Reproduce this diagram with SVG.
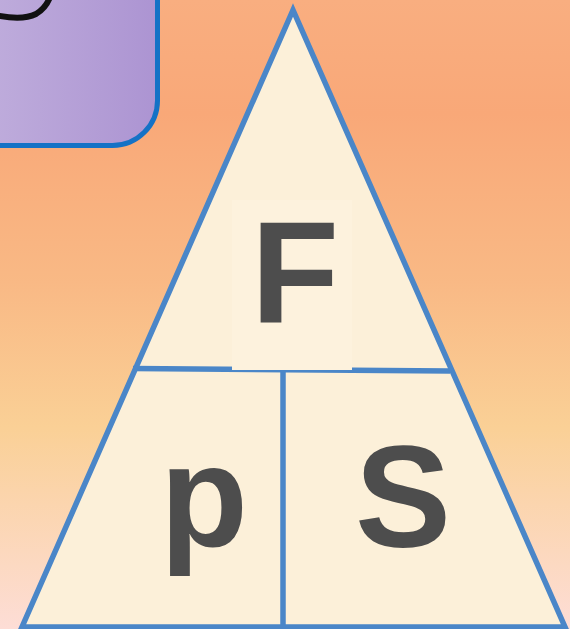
<svg xmlns="http://www.w3.org/2000/svg" width="570" height="629" viewBox="0 0 570 629">
  <defs>
    <linearGradient id="bg" x1="0" y1="0" x2="0" y2="1">
      <stop offset="0" stop-color="#F9AE80"/>
      <stop offset="0.18" stop-color="#F9A878"/>
      <stop offset="0.45" stop-color="#F9B985"/>
      <stop offset="0.68" stop-color="#FAD096"/>
      <stop offset="1" stop-color="#FDDDD6"/>
    </linearGradient>
    <linearGradient id="purple" x1="0" y1="0" x2="1" y2="0">
      <stop offset="0" stop-color="#C3B2DE"/>
      <stop offset="1" stop-color="#AC94D2"/>
    </linearGradient>
    <style>
      .edge { fill: none; stroke: #4A86C8; stroke-width: 5.5; stroke-linecap: butt; stroke-linejoin: miter; }
      .lbl { font-family: "Liberation Sans", Arial, sans-serif; font-weight: bold; font-size: 144px; fill: #4D4D4D; text-anchor: middle; }
    </style>
  </defs>
  <rect x="0" y="0" width="570" height="629" fill="url(#bg)"/>

  <g id="corner-box">
    <rect x="-50" y="-50" width="207.5" height="195.5" rx="45" ry="45" fill="url(#purple)" stroke="#1572C6" stroke-width="5"/>
    <path d="M -5 15 Q 22 21 36 14 Q 46 8 50 -3" fill="none" stroke="#111111" stroke-width="6"/>
  </g>

  <g id="triangle">
    <polygon points="293,10 22,627 565,627" fill="#FCF0D9"/>
  </g>

  <g id="connectors">
    <line class="edge" x1="133" y1="368.5" x2="450" y2="371"/>
    <line class="edge" x1="283" y1="370" x2="283" y2="627"/>
    <polygon class="edge" points="293,10 22,627 565,627"/>
  </g>

  <g id="node-F">
    <rect x="232" y="200" width="120" height="170" fill="#FDF2DD"/>
    <text class="lbl" x="295" y="323">F</text>
  </g>
  <g id="node-p">
    <text class="lbl" x="204" y="546">p</text>
  </g>
  <g id="node-S">
    <text class="lbl" x="403" y="547">S</text>
  </g>
</svg>
